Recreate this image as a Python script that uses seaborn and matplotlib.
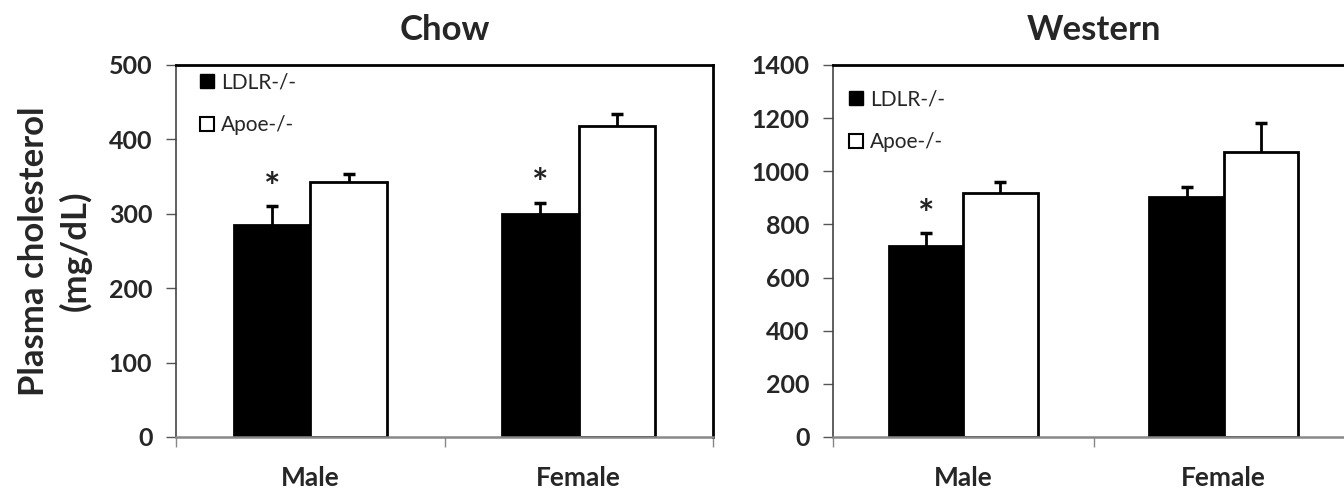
import numpy as np
import pandas as pd
import seaborn as sns
import matplotlib
matplotlib.use("Agg")
import matplotlib.pyplot as plt
from matplotlib.patches import Patch

# ---------------- data ----------------
categories = ["Male", "Female"]
genotypes = ["LDLR-/-", "Apoe-/-"]

chow_ldlr = [285, 300]
chow_ldlr_err = [25, 15]
chow_apoe = [343, 418]
chow_apoe_err = [11, 16]
chow_ldlr_star = [True, True]

west_ldlr = [719, 904]
west_ldlr_err = [48, 38]
west_apoe = [919, 1074]
west_apoe_err = [42, 109]
west_ldlr_star = [True, False]

titles = ["Chow", "Western"]
ylabel = "Plasma cholesterol\n(mg/dL)"

# ---------------- style ----------------
sns.set_style("white")
plt.rcParams["font.family"] = ["Lato", "DejaVu Sans"]
plt.rcParams["font.weight"] = "bold"

fig = plt.figure(figsize=(13.44, 4.88), dpi=100)
W, H = 1344.0, 488.0
ax1 = fig.add_axes([176 / W, 1 - 437 / H, (713 - 176) / W, (437 - 65) / H])
ax2 = fig.add_axes([833 / W, 1 - 437 / H, (1354 - 833) / W, (437 - 65) / H])

palette = {"LDLR-/-": "black", "Apoe-/-": "white"}


def draw(ax, ldlr, ldlr_err, apoe, apoe_err, stars, ymax, ystep, title, leg_anchor):
    df = pd.DataFrame({
        "sex": categories * 2,
        "genotype": [g for g in genotypes for _ in categories],
        "value": list(ldlr) + list(apoe),
        "err": list(ldlr_err) + list(apoe_err),
        "star": list(stars) + [False] * len(categories),
    })
    sns.barplot(data=df, x="sex", y="value", hue="genotype",
                order=categories, hue_order=genotypes, palette=palette,
                edgecolor="black", linewidth=2, width=0.5714, saturation=1,
                errorbar=None, legend=False, ax=ax)
    for p in list(ax.patches):
        cx = p.get_x() + p.get_width() / 2
        ci = int(round(cx))
        gi = 0 if cx < ci else 1
        row = df[(df["sex"] == categories[ci]) & (df["genotype"] == genotypes[gi])].iloc[0]
        h = p.get_height()
        eb = ax.errorbar([cx], [h], yerr=[[0], [row["err"]]], fmt="none",
                         ecolor="black", elinewidth=2, capsize=4, capthick=2.5, zorder=3)
        eb[1][0].set_visible(False)
        if row["star"]:
            ax.annotate("*", xy=(cx, h + row["err"]), xytext=(0, 13),
                        textcoords="offset points", ha="center", va="center",
                        fontsize=28, fontweight="bold", color="#222222")

    ax.set_xlim(-0.5, len(categories) - 0.5)
    ax.set_ylim(0, ymax)
    ax.set_yticks(np.arange(0, ymax + 1, ystep))
    ax.set_xticks(range(len(categories)))
    ax.set_xticklabels(categories)
    ax.set_xticks(np.arange(-0.5, len(categories), 1.0), minor=True)
    ax.set_xlabel("")
    ax.set_ylabel("")
    ax.tick_params(axis="y", direction="out", length=7, width=1, color="#555555",
                   pad=10, labelsize=18, left=True)
    ax.tick_params(axis="x", which="major", length=0, pad=21, labelsize=19)
    ax.tick_params(axis="x", which="minor", direction="out", length=7, width=1,
                   color="#888888", bottom=True)
    for lbl in ax.get_yticklabels() + ax.get_xticklabels():
        lbl.set_fontweight("bold")
    for s in ["top", "right"]:
        ax.spines[s].set_color("black")
        ax.spines[s].set_linewidth(2)
    ax.spines["left"].set_color("#444444")
    ax.spines["left"].set_linewidth(1.2)
    ax.spines["bottom"].set_color("#888888")
    ax.spines["bottom"].set_linewidth(1.8)
    ax.set_title(title, fontsize=25, fontweight="bold", pad=18)

    handles = [Patch(facecolor="black", edgecolor="black", linewidth=1),
               Patch(facecolor="white", edgecolor="black", linewidth=1.5)]
    ax.legend(handles, genotypes, loc="upper left", bbox_to_anchor=leg_anchor,
              frameon=False, prop={"family": "Lato", "weight": "normal", "size": 15},
              handlelength=0.65, handleheight=0.65, handletextpad=0.35,
              labelspacing=1.1, borderaxespad=0, borderpad=0)


draw(ax1, chow_ldlr, chow_ldlr_err, chow_apoe, chow_apoe_err, chow_ldlr_star,
     500, 100, titles[0], (0.045, 0.98))
draw(ax2, west_ldlr, west_ldlr_err, west_apoe, west_apoe_err, west_ldlr_star,
     1400, 200, titles[1], (0.031, 0.934))

fig.text(55 / W, 1 - 251 / H, ylabel, rotation=90, ha="center", va="center",
         multialignment="center", fontsize=25, fontweight="bold", linespacing=1.3)

fig.savefig("out.png", dpi=100, facecolor="white")
